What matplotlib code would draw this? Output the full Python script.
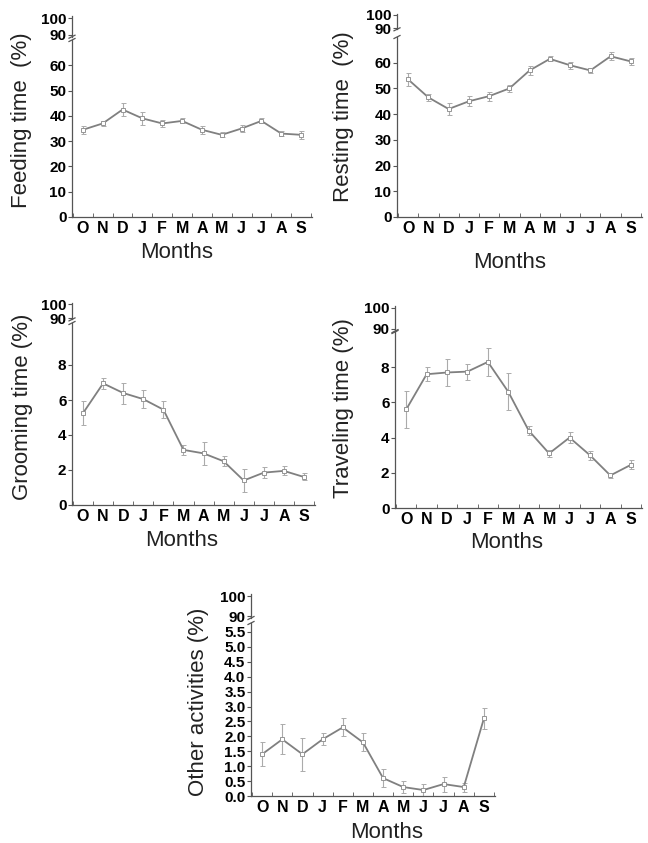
import matplotlib
matplotlib.use("Agg")
import matplotlib.pyplot as plt
from matplotlib.lines import Line2D
from matplotlib.ticker import FixedLocator, FormatStrFormatter

plt.rcParams['font.family'] = ['Liberation Sans', 'DejaVu Sans']

# data (mean +/- error per month, Oct -> Sep)
months = ['O', 'N', 'D', 'J', 'F', 'M', 'A', 'M', 'J', 'J', 'A', 'S']

feeding = [34.5, 37, 42.5, 39, 37, 38, 34.5, 32.5, 35, 38, 33, 32.5]
feeding_err = [1.5, 1, 2.5, 2.5, 1.5, 1, 1.5, 1, 1.2, 1, 1, 1.5]

resting = [53.5, 46.5, 42, 45, 47, 50, 57, 61.5, 59, 57, 62.5, 60.5]
resting_err = [2.5, 1.2, 2.5, 2, 1.8, 1.5, 1.8, 1, 1.3, 1, 1.5, 1.5]

grooming = [5.25, 6.95, 6.4, 6.05, 5.45, 3.15, 2.95, 2.5, 1.4, 1.85, 1.95, 1.6]
grooming_err = [0.7, 0.3, 0.6, 0.5, 0.5, 0.3, 0.65, 0.3, 0.65, 0.3, 0.25, 0.2]

traveling = [5.6, 7.6, 7.7, 7.75, 8.3, 6.6, 4.4, 3.1, 4.0, 3.0, 1.85, 2.45]
traveling_err = [1.05, 0.4, 0.75, 0.45, 0.8, 1.05, 0.25, 0.2, 0.3, 0.25, 0.15, 0.25]

other = [1.4, 1.9, 1.4, 1.9, 2.3, 1.8, 0.6, 0.3, 0.2, 0.4, 0.3, 2.6]
other_err = [0.4, 0.5, 0.55, 0.2, 0.3, 0.3, 0.3, 0.2, 0.2, 0.25, 0.15, 0.35]

W, H = 648, 843
fig = plt.figure(figsize=(W / 100, H / 100), dpi=100)
fig.patch.set_facecolor('white')

AXC = '#555555'
LINEC = '#808080'


def rect(l, r, top, bot):
    return [l / W, 1 - bot / H, (r - l) / W, (bot - top) / H]


def fig_line(xs, ys):
    fig.add_artist(Line2D([x / W for x in xs], [1 - y / H for y in ys],
                          color=AXC, lw=0.9, transform=fig.transFigure))


def panel(values, errs, yticks, fmt, ylabel, box, lab_xy, months_xy):
    # box: left, right, y of zero, y of top, ymax, y of 100, y of 90 (pixels)
    l, r, y0, ytop, ymax, u100, u90 = box
    ax = fig.add_axes(rect(l, r, ytop, y0))
    x = range(len(months))
    ax.errorbar(x, values, yerr=errs, color=LINEC, lw=1.3, marker='s', ms=3,
                mfc='white', mec='#959595', mew=0.7, ecolor='#ababab',
                elinewidth=0.8, capsize=1.8, capthick=0.8)
    ax.set_xlim(-0.55, 11.55)
    ax.set_ylim(0, ymax)
    for s in ['top', 'right']:
        ax.spines[s].set_visible(False)
    for s in ['left', 'bottom']:
        ax.spines[s].set_color(AXC)
        ax.spines[s].set_linewidth(0.9)
    ax.set_xticks(list(x))
    ax.set_xticklabels(months)
    ax.xaxis.set_minor_locator(FixedLocator([i + 0.5 for i in range(-1, 12)]))
    ax.tick_params(axis='x', which='major', length=0, pad=3, labelsize=11.5)
    ax.tick_params(axis='x', which='minor', length=3, direction='in', color=AXC)
    ax.set_yticks(yticks)
    ax.yaxis.set_major_formatter(FormatStrFormatter(fmt))
    ax.tick_params(axis='y', length=3, width=0.8, pad=1, labelsize=11, color=AXC)
    for t in ax.get_xticklabels() + ax.get_yticklabels():
        t.set_fontweight('bold')

    # small top segment of the broken axis (90-100)
    sc = (u90 - u100) / 10
    axu = fig.add_axes(rect(l, l + 1, u100 - sc, u90 + sc))
    axu.set_ylim(89, 101)
    axu.patch.set_visible(False)
    for s in ['top', 'right', 'bottom']:
        axu.spines[s].set_visible(False)
    axu.spines['left'].set_color(AXC)
    axu.spines['left'].set_linewidth(0.9)
    axu.set_xticks([])
    axu.set_yticks([90, 100])
    axu.tick_params(axis='y', length=3, width=0.8, pad=1, labelsize=11, color=AXC)
    for t in axu.get_yticklabels():
        t.set_fontweight('bold')

    # break marks
    for yb in (u90 + sc, ytop):
        fig_line([l - 3, l + 3], [yb + 1.5, yb - 1.5])

    fig.text(lab_xy[0] / W, 1 - lab_xy[1] / H, ylabel, rotation=90,
             ha='center', va='center', fontsize=16, color='#222222')
    fig.text(months_xy[0] / W, 1 - months_xy[1] / H, 'Months',
             ha='center', va='center', fontsize=16, color='#222222')


panel(feeding, feeding_err, [0, 10, 20, 30, 40, 50, 60], '%d', 'Feeding time  (%)',
      (72, 312, 217, 40, 70, 18, 35), (22, 120), (177, 253))
panel(resting, resting_err, [0, 10, 20, 30, 40, 50, 60], '%d', 'Resting time  (%)',
      (397, 642, 217, 37, 70, 15, 28), (343, 117), (510, 263))
panel(grooming, grooming_err, [0, 2, 4, 6, 8], '%d', 'Grooming time (%)',
      (72, 315, 505, 323, 10.4, 304, 318), (23, 407), (182, 540))
panel(traveling, traveling_err, [0, 2, 4, 6, 8], '%d', 'Traveling time (%)',
      (395, 642, 508, 332, 10, 308, 329), (343, 408), (507, 542))
panel(other, other_err, [i * 0.5 for i in range(12)], '%.1f', 'Other activities (%)',
      (251, 495, 796, 623, 5.8, 596, 616), (198, 702), (387, 833))

fig.savefig('out.png', dpi=100)
